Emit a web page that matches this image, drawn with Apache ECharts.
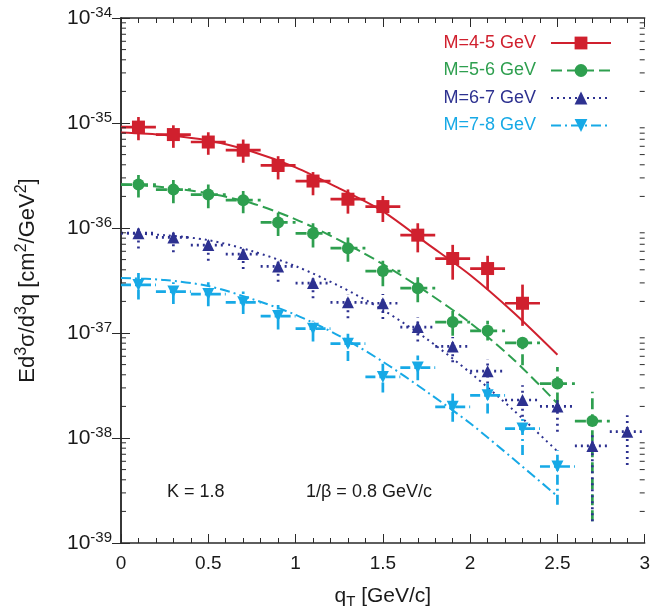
<!DOCTYPE html>
<html>
<head>
<meta charset="utf-8">
<script src="https://cdn.jsdelivr.net/npm/echarts@6/dist/echarts.min.js"></script>
<style>
  html, body { margin: 0; padding: 0; background: #fff; }
  #chart { width: 653px; height: 614px; }
</style>
</head>
<body>
<div id="chart"></div>
<script>
// Drell-Yan pair transverse-momentum spectra, four mass bins
const qT = [0.1, 0.3, 0.5, 0.7, 0.9, 1.1, 1.3, 1.5, 1.7, 1.9, 2.1, 2.3, 2.5, 2.7, 2.9];
const binHalfWidth = 0.1;

const m45   = [9.14e-36, 7.76e-36, 6.59e-36, 5.51e-36, 3.94e-36, 2.80e-36, 1.88e-36, 1.60e-36, 8.55e-37, 5.12e-37, 4.11e-37, 1.92e-37];
const m45Lo = [6.85e-36, 5.80e-36, 4.98e-36, 4.18e-36, 2.90e-36, 2.05e-36, 1.37e-36, 1.14e-36, 5.86e-37, 3.22e-37, 2.59e-37, 1.17e-37];
const m45Hi = [1.14e-35, 9.51e-36, 8.16e-36, 6.96e-36, 4.83e-36, 3.41e-36, 2.33e-36, 2.02e-36, 1.11e-36, 6.91e-37, 5.44e-37, 2.89e-37];

const m56   = [2.59e-36, 2.32e-36, 2.08e-36, 1.84e-36, 1.13e-36, 8.87e-37, 6.43e-37, 3.89e-37, 2.67e-37, 1.27e-37, 1.05e-37, 8.07e-38, 3.30e-38, 1.45e-38];
const m56Lo = [1.95e-36, 1.72e-36, 1.54e-36, 1.38e-36, 8.41e-37, 6.53e-37, 4.77e-37, 2.79e-37, 1.96e-37, 9.41e-38, 8.49e-38, 4.93e-38, 2.13e-38, 1.61e-39];
const m56Hi = [3.19e-36, 2.86e-36, 2.59e-36, 2.25e-36, 1.40e-36, 1.11e-36, 8.13e-37, 4.87e-37, 3.39e-37, 1.62e-37, 1.31e-37, 9.83e-38, 4.75e-38, 2.75e-38];

const m67   = [8.93e-37, 8.13e-37, 6.87e-37, 5.64e-37, 4.31e-37, 2.99e-37, 1.96e-37, 1.92e-37, 1.14e-37, 7.45e-38, 4.33e-38, 2.30e-38, 2.00e-38, 8.41e-39, 1.15e-38];
const m67Lo = [6.39e-37, 5.86e-37, 4.87e-37, 4.07e-37, 3.08e-37, 2.14e-37, 1.38e-37, 1.36e-37, 8.31e-38, 5.27e-38, 3.30e-38, 1.59e-38, 1.15e-38, 1.61e-39, 5.53e-39];
const m67Hi = [1.01e-36, 9.06e-37, 7.83e-37, 6.53e-37, 4.87e-37, 3.51e-37, 2.35e-37, 2.35e-37, 1.42e-37, 9.14e-38, 5.61e-38, 3.18e-38, 2.29e-38, 1.07e-38, 1.65e-38];

const m78   = [2.87e-37, 2.48e-37, 2.35e-37, 1.96e-37, 1.45e-37, 1.10e-37, 7.91e-38, 3.82e-38, 4.68e-38, 1.98e-38, 2.55e-38, 1.23e-38, 5.35e-39];
const m78Lo = [2.08e-37, 1.89e-37, 1.80e-37, 1.52e-37, 1.08e-37, 8.31e-38, 5.40e-38, 2.71e-38, 3.54e-38, 1.43e-38, 1.71e-38, 6.90e-39, 2.31e-39];
const m78Hi = [3.73e-37, 3.04e-37, 3.04e-37, 2.48e-37, 1.85e-37, 1.31e-37, 9.83e-38, 5.10e-38, 6.12e-38, 2.65e-38, 3.42e-38, 1.63e-38, 7.68e-39];

// model curves (K = 1.8, 1/beta = 0.8 GeV/c)
const fitQ  = [0, 0.25, 0.5, 0.75, 1.0, 1.25, 1.5, 1.75, 2.0, 2.25, 2.5];
const fit45 = [8.11e-36, 7.68e-36, 6.81e-36, 5.36e-36, 3.78e-36, 2.38e-36, 1.44e-36, 7.18e-37, 3.57e-37, 1.56e-37, 6.21e-38];
const fit56 = [2.60e-36, 2.44e-36, 2.14e-36, 1.72e-36, 1.21e-36, 7.66e-37, 4.53e-37, 2.46e-37, 1.25e-37, 5.57e-38, 2.13e-38];
const fit67 = [8.93e-37, 8.55e-37, 7.66e-37, 6.03e-37, 4.34e-37, 2.80e-37, 1.66e-37, 8.81e-38, 4.19e-38, 1.83e-38, 7.46e-39];
const fit78 = [3.34e-37, 3.20e-37, 2.80e-37, 2.11e-37, 1.49e-37, 9.41e-38, 5.33e-38, 2.77e-38, 1.38e-38, 6.27e-39, 2.79e-39];

const seriesNames = ['M=4-5 GeV', 'M=5-6 GeV', 'M=6-7 GeV', 'M=7-8 GeV'];
const yMin = 1e-39, yMax = 1e-34;

// the log axis works in units of 1e-36 cm²/GeV² to keep numbers in a friendly range
const UNIT_EXP = -36;
const UNIT = Math.pow(10, UNIT_EXP);
const u = v => v / UNIT;

const FONT = '"Liberation Sans", Arial, Helvetica, sans-serif';
const AXIS_COLOR = '#2a2a2a';
const TEXT_COLOR = '#1a1a1a';

const groups = [
  { name: seriesNames[0], color: '#d0202e', dash: 'solid',        symbol: 'rect',     size: 13, rot: 0,   y: m45, lo: m45Lo, hi: m45Hi, fit: fit45 },
  { name: seriesNames[1], color: '#2e9f4f', dash: [11, 5],         symbol: 'circle',   size: 12, rot: 0,   y: m56, lo: m56Lo, hi: m56Hi, fit: fit56 },
  { name: seriesNames[2], color: '#2d3190', dash: [2, 4],          symbol: 'triangle', size: 12, rot: 0,   y: m67, lo: m67Lo, hi: m67Hi, fit: fit67 },
  { name: seriesNames[3], color: '#17a9e6', dash: [10, 4, 2, 4],   symbol: 'triangle', size: 12, rot: 180, y: m78, lo: m78Lo, hi: m78Hi, fit: fit78 }
];

// minor ticks for the logarithmic axis: 2..9 within every decade
const logMinor = [];
for (let e = -39; e < -34; e++) {
  for (let k = 2; k <= 9; k++) logMinor.push([0, u(k * Math.pow(10, e))]);
}

function errorBarRender(style) {
  return function (params, api) {
    const x = api.value(0), y = api.value(1), lo = api.value(2), hi = api.value(3);
    const pLo = api.coord([x, lo]);
    const pHi = api.coord([x, hi]);
    const pL = api.coord([x - binHalfWidth, y]);
    const pR = api.coord([x + binHalfWidth, y]);
    return {
      type: 'group',
      children: [
        { type: 'line', shape: { x1: pLo[0], y1: pLo[1], x2: pHi[0], y2: pHi[1] }, style: style },
        { type: 'line', shape: { x1: pL[0], y1: pL[1], x2: pR[0], y2: pR[1] }, style: style }
      ]
    };
  };
}

const series = [];
// curves first so the legend picks up their line style
groups.forEach(g => {
  series.push({
    name: g.name,
    type: 'line',
    data: fitQ.map((q, i) => [q, u(g.fit[i])]),
    smooth: 0.3,
    showSymbol: false,
    symbol: g.symbol,
    symbolSize: g.size,
    symbolRotate: g.rot,
    itemStyle: { color: g.color },
    lineStyle: { color: g.color, width: 2, type: g.dash, cap: 'butt' },
    z: 3,
    silent: true
  });
});
groups.forEach(g => {
  const pts = g.y.map((v, i) => [qT[i], u(v), u(g.lo[i]), u(g.hi[i])]);
  series.push({
    name: g.name,
    type: 'custom',
    data: pts,
    encode: { x: 0, y: 1 },
    renderItem: errorBarRender({
      stroke: g.color, lineWidth: 2.7,
      lineDash: g.dash === 'solid' ? null : g.dash
    }),
    z: 4,
    silent: true
  });
  series.push({
    name: g.name,
    type: 'scatter',
    data: pts.map(p => [p[0], p[1]]),
    symbol: g.symbol,
    symbolSize: g.size,
    symbolRotate: g.rot,
    itemStyle: { color: g.color, opacity: 1 },
    z: 5,
    silent: true
  });
});
// inner minor ticks on the left and right frame
series.push({
  type: 'custom',
  data: logMinor,
  encode: { x: 0, y: 1 },
  renderItem: function (params, api) {
    const y = api.coord([0, api.value(1)])[1];
    const cs = params.coordSys;
    const st = { stroke: AXIS_COLOR, lineWidth: 1 };
    return {
      type: 'group',
      children: [
        { type: 'line', shape: { x1: cs.x, y1: y, x2: cs.x + 5, y2: y }, style: st },
        { type: 'line', shape: { x1: cs.x + cs.width, y1: y, x2: cs.x + cs.width - 5, y2: y }, style: st }
      ]
    };
  },
  z: 6,
  silent: true
});

function xAxisDef(pos, labels) {
  return {
    type: 'value', position: pos, min: 0, max: 3, interval: 0.5,
    axisLine: { show: true, lineStyle: { color: AXIS_COLOR, width: 1.5 } },
    axisTick: { show: true, inside: true, length: 9, lineStyle: { color: AXIS_COLOR, width: 1 } },
    minorTick: { show: true, splitNumber: 5, length: 5, lineStyle: { color: AXIS_COLOR, width: 1 } },
    splitLine: { show: false },
    axisLabel: {
      show: labels, margin: 11, fontSize: 19, color: TEXT_COLOR, fontFamily: FONT,
      formatter: v => String(v)
    }
  };
}
function yAxisDef(pos, labels) {
  return {
    type: 'log', logBase: 10, position: pos, min: u(yMin), max: u(yMax), splitNumber: 5,
    axisLine: { show: true, lineStyle: { color: AXIS_COLOR, width: 1.5 } },
    axisTick: { show: true, inside: true, length: 9, lineStyle: { color: AXIS_COLOR, width: 1 } },
    splitLine: { show: false },
    axisLabel: {
      show: labels, margin: 9, color: TEXT_COLOR, fontFamily: FONT,
      formatter: v => '{b|10}{s|' + (Math.round(Math.log10(v)) + UNIT_EXP) + '}',
      rich: {
        b: { fontSize: 21, fontFamily: FONT, color: TEXT_COLOR, lineHeight: 26 },
        s: { fontSize: 15, fontFamily: FONT, color: TEXT_COLOR, verticalAlign: 'top', lineHeight: 16 }
      }
    }
  };
}

const xAx0 = xAxisDef('bottom', true);
xAx0.name = '{q|q}{t|T}{q| [GeV/c]}';
xAx0.nameLocation = 'middle';
xAx0.nameGap = 41;
xAx0.nameTextStyle = {
  rich: {
    q: { fontSize: 21, fontFamily: FONT, color: TEXT_COLOR },
    t: { fontSize: 15, fontFamily: FONT, color: TEXT_COLOR, verticalAlign: 'bottom', padding: [10, 0, 0, 0] }
  }
};
const yAx0 = yAxisDef('left', true);
yAx0.name = '{n|Ed}{s|3}{n|σ/d}{s|3}{n|q [cm}{s|2}{n|/GeV}{s|2}{n|]}';
yAx0.nameLocation = 'middle';
yAx0.nameGap = 80;
yAx0.nameTextStyle = {
  rich: {
    n: { fontSize: 22, fontFamily: FONT, color: TEXT_COLOR, lineHeight: 27 },
    s: { fontSize: 16, fontFamily: FONT, color: TEXT_COLOR, verticalAlign: 'top', lineHeight: 17 }
  }
};

const chart = echarts.init(document.getElementById('chart'), null, { renderer: 'canvas' });
chart.setOption({
  animation: false,
  backgroundColor: '#ffffff',
  grid: { left: 121, right: 6, top: 18, bottom: 69 },
  xAxis: [xAx0, xAxisDef('top', false)],
  yAxis: [yAx0, yAxisDef('right', false)],
  legend: {
    orient: 'vertical',
    align: 'right',
    right: 41,
    top: 34,
    padding: 0,
    itemWidth: 60,
    itemHeight: 16,
    itemGap: 9.5,
    selectedMode: false,
    data: groups.map(g => ({ name: g.name, textStyle: { color: g.color } })),
    textStyle: { fontSize: 18, fontFamily: FONT, padding: [0, 10, 0, 0] }
  },
  graphic: [
    { type: 'text', left: 167, top: 483, style: { text: 'K = 1.8', fontSize: 18, fontFamily: FONT, fill: TEXT_COLOR } },
    { type: 'text', left: 306, top: 483, style: { text: '1/β = 0.8 GeV/c', fontSize: 18, fontFamily: FONT, fill: TEXT_COLOR } }
  ],
  series: series
});
</script>
</body>
</html>
